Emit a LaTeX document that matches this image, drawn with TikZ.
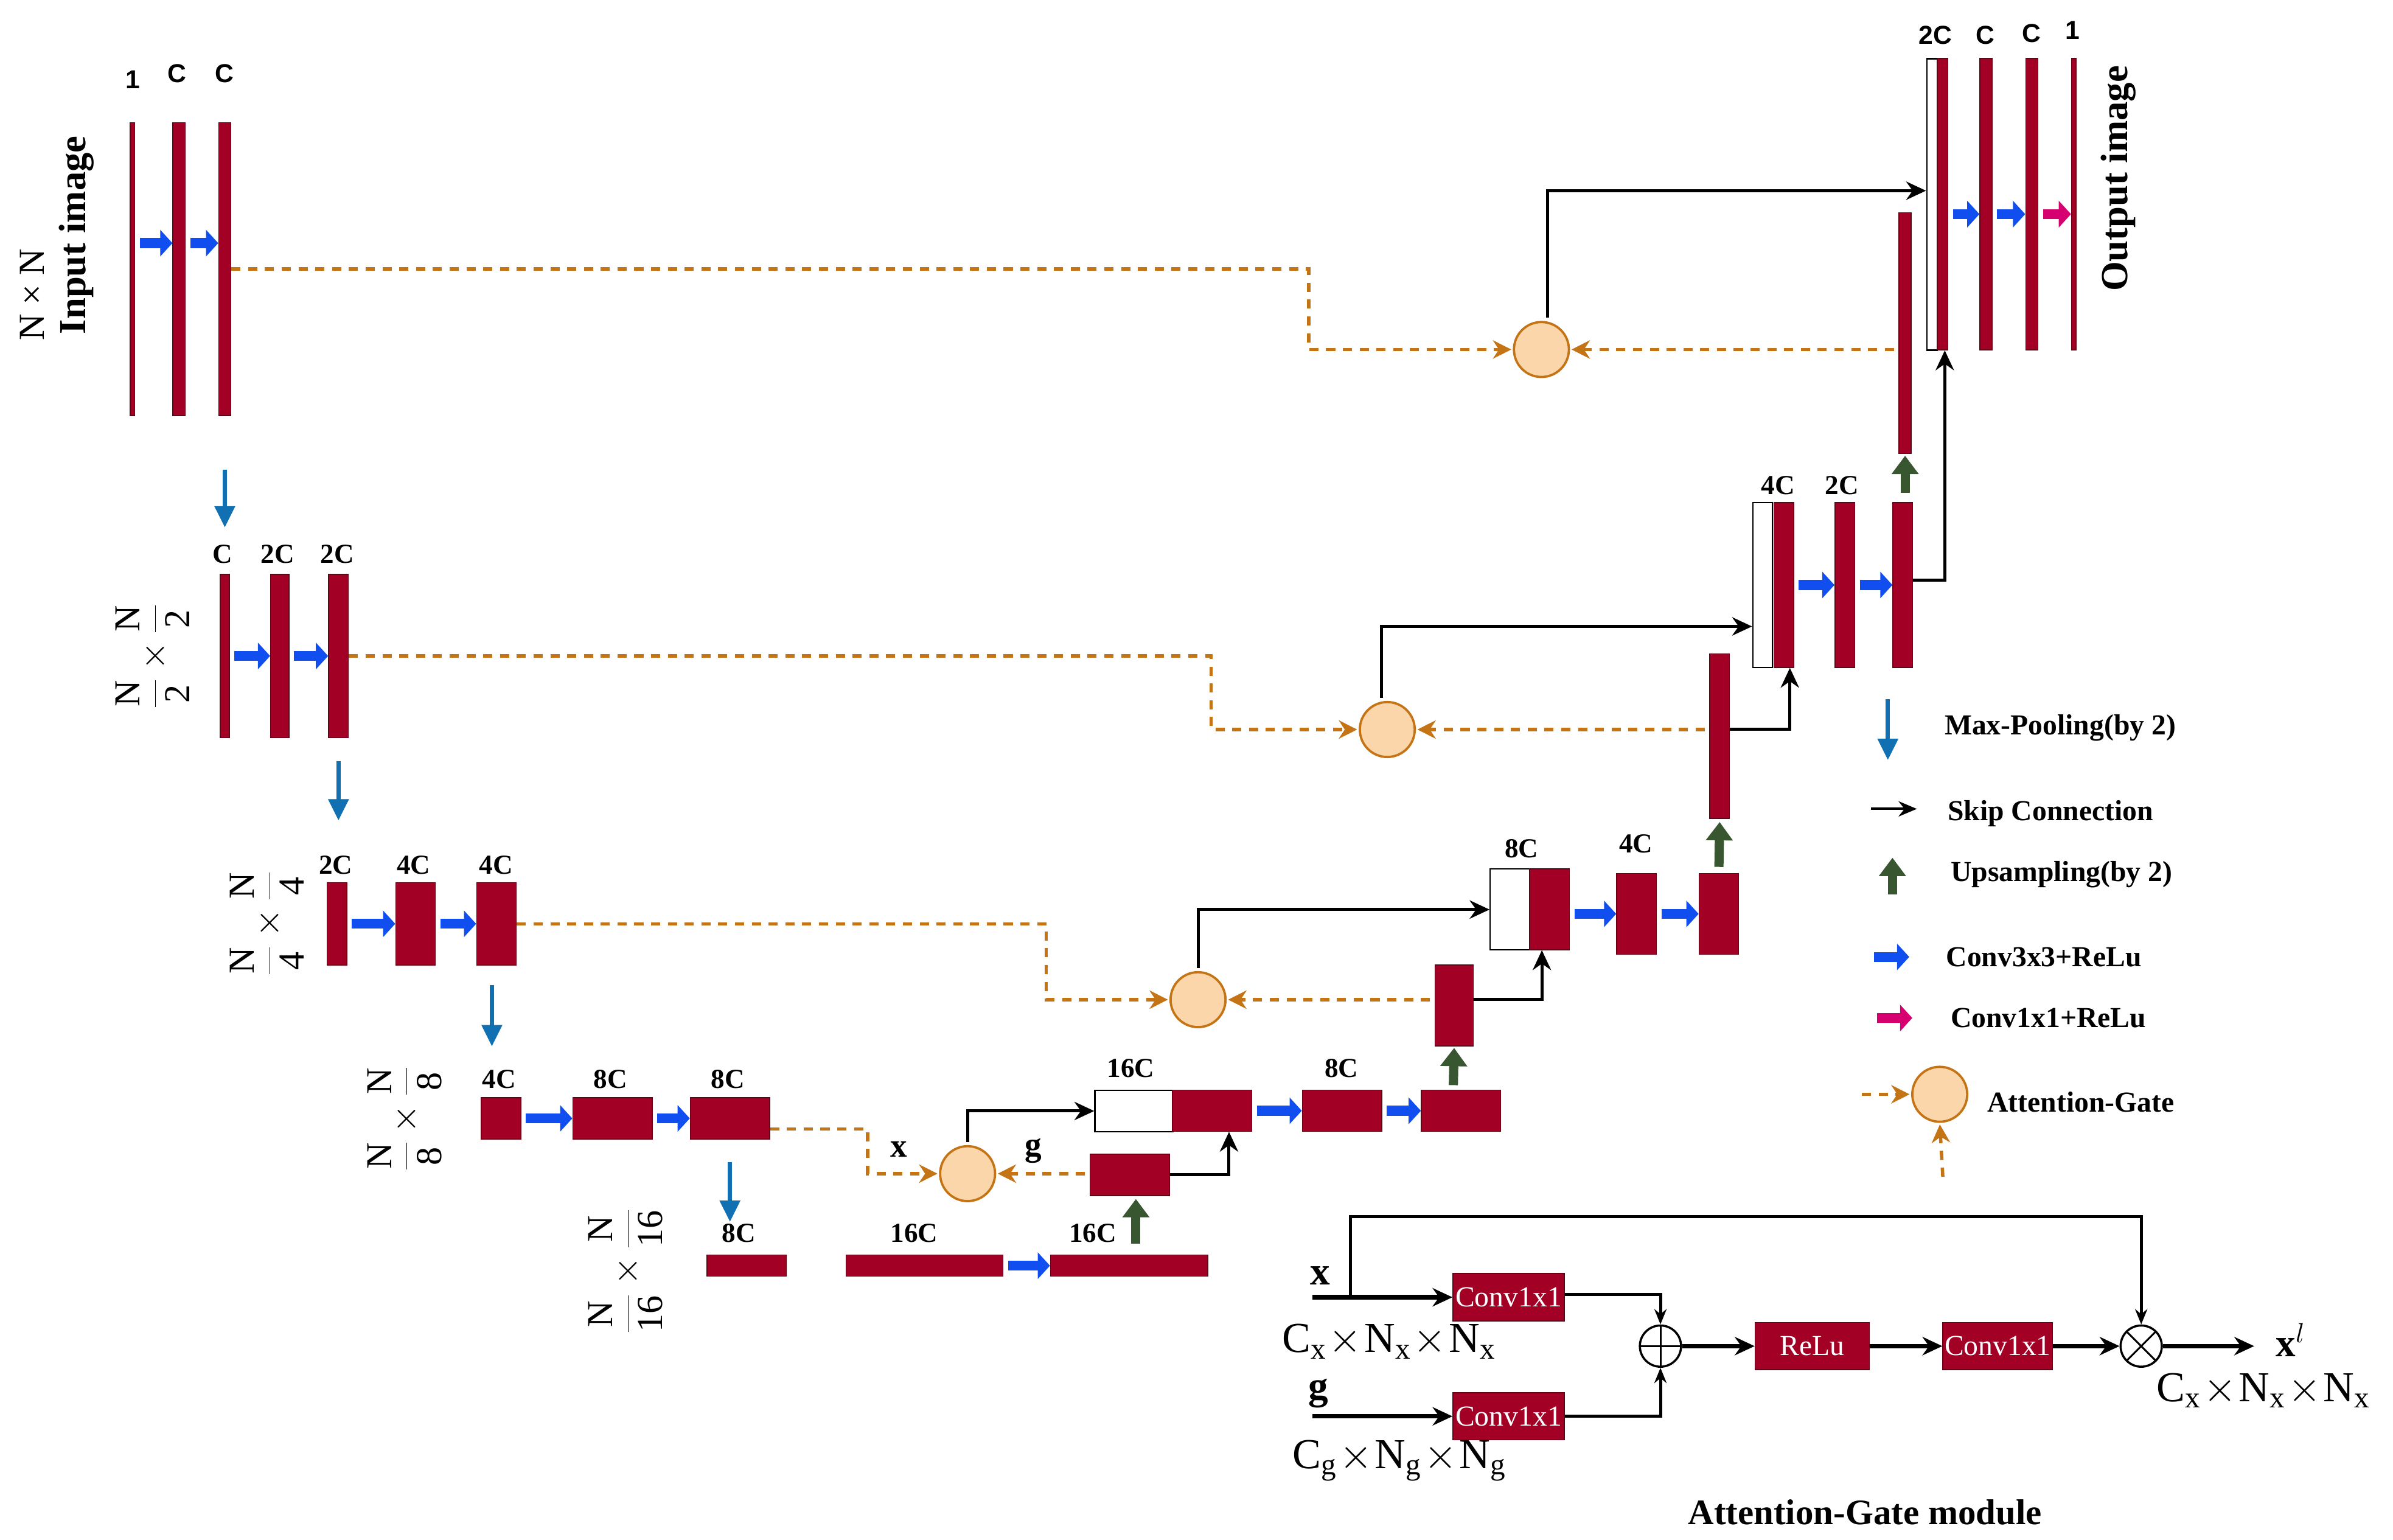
\RequirePackage{fix-cm}
\documentclass[tikz,border=0pt]{standalone}
\usepackage{fontspec}
\setmainfont{Liberation Serif}
\newfontfamily\sansf{Liberation Sans}
\usetikzlibrary{arrows.meta}

\definecolor{barred}{RGB}{163,0,38}
\definecolor{barline}{RGB}{105,0,22}
\definecolor{convblue}{RGB}{16,78,240}
\definecolor{poolblue}{RGB}{16,112,178}
\definecolor{upgreen}{RGB}{56,86,48}
\definecolor{onepink}{RGB}{214,0,112}
\definecolor{gateorange}{RGB}{196,116,20}
\definecolor{gatefill}{RGB}{250,214,170}

\tikzset{
    bar/.style 2 args={draw=barline, line width=0.6pt, fill=barred, inner sep=0, anchor=north west, minimum width=#1, minimum height=#2},
    wbox/.style 2 args={draw=black, line width=0.9pt, fill=white, inner sep=0, anchor=north west, minimum width=#1, minimum height=#2},
    chan/.style={font=\fontsize{18}{20}\selectfont\bfseries, inner sep=0},
    chans/.style={font=\sansf\fontsize{17}{19}\selectfont\bfseries, inner sep=0},
    dimlab/.style={rotate=90, font=\fontsize{24}{26}\selectfont, inner sep=0},
    legtext/.style={anchor=west, font=\fontsize{19}{21}\selectfont\bfseries, inner sep=0},
    conv/.style={convblue, line width=6.5pt, -{Triangle[length=8pt,width=17pt]}, shorten <=3pt},
    onebyone/.style={onepink, line width=6.5pt, -{Triangle[length=8pt,width=17pt]}, shorten <=3pt},
    upsamp/.style={upgreen, line width=6pt, -{Triangle[length=12pt,width=17pt]}},
    pool/.style={poolblue, line width=2.8pt, -{Triangle[length=14pt,width=13pt]}},
    skip/.style={black, line width=2pt, -{Stealth[length=13pt,width=12pt]}},
    gate/.style={gateorange, line width=2.2pt, dash pattern=on 6pt off 5pt, -{Stealth[length=12pt,width=12pt]}, shorten >=1pt},
    ag/.style={circle, draw=gateorange, fill=gatefill, line width=1.5pt, minimum size=36pt, inner sep=0},
    opbox/.style={draw=barline, line width=0.6pt, fill=barred, text=white, inner sep=0, minimum height=31pt, font=\fontsize{19}{21}\selectfont},
    opc/.style={circle, draw, line width=1.4pt, minimum size=27pt, inner sep=0},
    oplus/.style={opc, path picture={\draw[line width=1.2pt] (path picture bounding box.north) -- (path picture bounding box.south) (path picture bounding box.west) -- (path picture bounding box.east);}},
    otimes/.style={opc, path picture={\draw[line width=1.2pt] (path picture bounding box.north west) -- (path picture bounding box.south east) (path picture bounding box.north east) -- (path picture bounding box.south west);}},
    thickarr/.style={black, line width=3pt, -{Stealth[length=13pt,width=12pt]}},
    thinarr/.style={black, line width=2pt, -{Stealth[length=10pt,width=8pt]}},
    dimtxt/.style={font=\fontsize{28}{30}\selectfont, inner sep=0}
}

\begin{document}
\begin{tikzpicture}[x=1pt, y=-1pt]
    \path[use as bounding box, fill=white] (0,0) rectangle (1568,1009);

    % encoder
    \node[bar={3}{192}] (e1a) at (85,80) {};
    \node[bar={8}{192}] (e1b) at (113,80) {};
    \node[bar={8}{192}] (e1c) at (143,80) {};
    \node[chans] at (87,52) {1};
    \node[chans] at (116,48) {C};
    \node[chans] at (147,48) {C};
    \node[dimlab] (n1) at (21,193) {N × N};
    \node[dimlab, font=\fontsize{25}{27}\selectfont\bfseries] (inimg) at (50,154) {Input image};
    \draw[conv] ([yshift=17]e1a.east) -- ([yshift=17]e1b.west);
    \draw[conv] ([yshift=17]e1b.east) -- ([yshift=17]e1c.west);

    \node[bar={6}{107}] (e2a) at (144,376) {};
    \node[bar={12}{107}] (e2b) at (177,376) {};
    \node[bar={13}{107}] (e2c) at (215,376) {};
    \node[chan] at (146,363) {C};
    \node[chan] at (182,363) {2C};
    \node[chan] at (221,363) {2C};
    \node[dimlab] (n2) at (100,430) {$\displaystyle\frac{\textrm{N}}{\textrm{2}}\times\frac{\textrm{N}}{\textrm{2}}$};
    \draw[conv] (e2a.east) -- (e2b.west);
    \draw[conv] (e2b.east) -- (e2c.west);

    \node[bar={13}{54}] (e3a) at (214,578) {};
    \node[bar={26}{54}] (e3b) at (259,578) {};
    \node[bar={26}{54}] (e3c) at (312,578) {};
    \node[chan] at (220,567) {2C};
    \node[chan] at (271,567) {4C};
    \node[chan] at (325,567) {4C};
    \node[dimlab] (n3) at (175,605) {$\displaystyle\frac{\textrm{N}}{\textrm{4}}\times\frac{\textrm{N}}{\textrm{4}}$};
    \draw[conv] (e3a.east) -- (e3b.west);
    \draw[conv] (e3b.east) -- (e3c.west);

    \node[bar={26}{27}] (e4a) at (315,719) {};
    \node[bar={52}{27}] (e4b) at (375,719) {};
    \node[bar={52}{27}] (e4c) at (452,719) {};
    \node[chan] at (327,707) {4C};
    \node[chan] at (400,707) {8C};
    \node[chan] at (477,707) {8C};
    \node[dimlab] (n4) at (265,733) {$\displaystyle\frac{\textrm{N}}{\textrm{8}}\times\frac{\textrm{N}}{\textrm{8}}$};
    \draw[conv] (e4a.east) -- (e4b.west);
    \draw[conv] (e4b.east) -- (e4c.west);

    \node[bar={52}{14}] (e5a) at (463,822) {};
    \node[bar={103}{14}] (e5b) at (554,822) {};
    \node[bar={103}{14}] (e5c) at (688,822) {};
    \node[chan] at (484,808) {8C};
    \node[chan] at (599,808) {16C};
    \node[chan] at (716,808) {16C};
    \node[dimlab] (n5) at (410,833) {$\displaystyle\frac{\textrm{N}}{\textrm{16}}\times\frac{\textrm{N}}{\textrm{16}}$};
    \draw[conv] (e5b.east) -- (e5c.west);

    \draw[pool] ([yshift=-35]e1c.south) -- ++(0,38);
    \draw[pool] ([yshift=-15]e2c.south) -- ++(0,39);
    \draw[pool] ([xshift=-3,yshift=-13]e3c.south) -- ++(0,40);
    \draw[pool] ([yshift=-15]e4c.south) -- ++(0,39);

    % attention gates
    \node[ag] (ag1) at (1010,229) {};
    \node[ag] (ag2) at (909,478) {};
    \node[ag] (ag3) at (785,655) {};
    \node[ag] (ag4) at (634,769) {};

    % decoder
    \node[bar={52}{27}] (d4g) at (714,756) {};
    \node[wbox={51}{27}] (d4w) at (717,714) {};
    \node[bar={52}{27}] (d4r) at (768,714) {};
    \node[bar={52}{27}] (d4b) at (853,714) {};
    \node[bar={52}{27}] (d4c) at (931,714) {};
    \node[chan] at (741,700) {16C};
    \node[chan] at (879,700) {8C};
    \node[font=\fontsize{22}{24}\selectfont\bfseries, inner sep=0] at (589,753) {x};
    \node[font=\fontsize{22}{24}\selectfont\bfseries, inner sep=0] at (677,754) {g};
    \draw[conv] (d4r.east) -- (d4b.west);
    \draw[conv] (d4b.east) -- (d4c.west);
    \draw[upsamp] ([xshift=4.5,yshift=7]e5c.north) -- ([xshift=4,yshift=-2]d4g.south);

    \node[bar={25}{53}] (d3u) at (940,632) {};
    \node[wbox={26}{53}] (d3w) at (976,569) {};
    \node[bar={26}{53}] (d3r) at (1002,569) {};
    \node[bar={26}{53}] (d3b) at (1059,572) {};
    \node[bar={26}{53}] (d3c) at (1113,572) {};
    \node[chan] at (997,556) {8C};
    \node[chan] at (1072,553) {4C};
    \draw[conv] ([yshift=-3]d3r.east) -- (d3b.west);
    \draw[conv] (d3b.east) -- (d3c.west);
    \draw[upsamp] ([xshift=-5,yshift=3]d4c.north) -- ([yshift=-1]d3u.south);

    \node[bar={13}{108}] (d2u) at (1120,428) {};
    \node[wbox={13}{108}] (d2w) at (1148,329) {};
    \node[bar={13}{108}] (d2r) at (1162,329) {};
    \node[bar={13}{108}] (d2b) at (1202,329) {};
    \node[bar={13}{108}] (d2c) at (1240,329) {};
    \node[chan] at (1165,318) {4C};
    \node[chan] at (1207,318) {2C};
    \draw[conv] (d2r.east) -- (d2b.west);
    \draw[conv] (d2b.east) -- (d2c.west);
    \draw[upsamp] ([yshift=4]d3c.north) -- ([yshift=-2]d2u.south);

    \node[bar={8}{158}] (d1u) at (1244,139) {};
    \node[wbox={7}{191}] (d1w) at (1262,38) {};
    \node[bar={7}{191}] (d1r) at (1269,38) {};
    \node[bar={8}{191}] (d1b) at (1297,38) {};
    \node[bar={8}{191}] (d1c) at (1327,38) {};
    \node[bar={3}{191}] (d1d) at (1357,38) {};
    \node[chans] at (1268,23) {2C};
    \node[chans] at (1301,23) {C};
    \node[chans] at (1331,22) {C};
    \node[chans] at (1358,20) {1};
    \node[dimlab, font=\fontsize{25}{27}\selectfont\bfseries] (outimg) at (1388,117) {Output image};
    \draw[conv] ([yshift=-6.5]d1r.east) -- ([yshift=-6.5]d1b.west);
    \draw[conv] ([yshift=-6.5]d1b.east) -- ([yshift=-6.5]d1c.west);
    \draw[onebyone] ([yshift=-6.5]d1c.east) -- ([yshift=-6.5]d1d.west);
    \draw[upsamp] ([xshift=1.5,yshift=6]d2c.north) -- ([yshift=-1]d1u.south);

    % skip paths through the gates
    \draw[gate] (e1c.east) -- ++(706,0) |- (ag1.west);
    \draw[gate] (e2c.east) -- ++(565,0) |- (ag2.west);
    \draw[gate] (e3c.east) -- ++(347,0) |- (ag3.west);
    \draw[gate] ([yshift=-7]e4c.east) -- ++(64,0) |- (ag4.west);
    \draw[gate, shorten <=3pt] (d1u.west |- ag1) -- (ag1.east);
    \draw[gate, shorten <=3pt] (d2u.west |- ag2) -- (ag2.east);
    \draw[gate, shorten <=3pt] (d3u.west |- ag3) -- (ag3.east);
    \draw[gate, shorten <=3pt] (d4g.west |- ag4) -- (ag4.east);

    \draw[skip, shorten <=2pt] ([xshift=4]ag1.north) |- ([yshift=9]d1w.west);
    \draw[skip, shorten <=2pt] ([xshift=-4]ag2.north) |- ([yshift=-27]d2w.west);
    \draw[skip, shorten <=2pt] (ag3.north) |- (d3w.west);
    \draw[skip, shorten <=2pt] (ag4.north) |- (d4w.west);

    \draw[skip] (d4g.east) -| ([xshift=11]d4r.south);
    \draw[skip] (d3u.east |- ag3) -| ([xshift=-5]d3r.south);
    \draw[skip] (d2u.east |- ag2) -| ([xshift=4]d2r.south);
    \draw[skip] ([yshift=3]d2c.east) -| ([xshift=1.5]d1r.south);

    % legend
    \draw[pool] (1237,458) -- (1237,498);
    \node[legtext] (lg1) at (1274,477) {Max-Pooling(by 2)};
    \draw[black, line width=1.6pt, -{Stealth[length=12pt,width=10pt]}] (1226,530) -- (1256,530);
    \node[legtext] (lg2) at (1276,533) {Skip Connection};
    \draw[upsamp] (1240,586) -- (1240,562);
    \node[legtext] (lg3) at (1278,573) {Upsampling(by 2)};
    \draw[conv, shorten <=0pt] (1228,627) -- (1251,627);
    \node[legtext] (lg4) at (1275,627) {Conv3x3+ReLu};
    \draw[onebyone, shorten <=0pt] (1230,667) -- (1253,667);
    \node[legtext] (lg5) at (1278,667) {Conv1x1+ReLu};
    \node[ag] (lgag) at (1271,717) {};
    \draw[gate] (1220,717) -- (lgag.west);
    \draw[gate] (1273,771) -- (lgag.south);
    \node[legtext] (lg6) at (1302,722) {Attention-Gate};

    % attention gate module
    \coordinate (xin) at (860,850);
    \coordinate (gin) at (860,928);
    \node[opbox, minimum width=73pt] (cx) at (988.5,850) {$\mathrm{Conv1x1}$};
    \node[opbox, minimum width=73pt] (cg) at (988.5,928) {$\mathrm{Conv1x1}$};
    \node[oplus] (plus) at (1088,882) {};
    \node[opbox, minimum width=75pt] (relu) at (1187.5,882) {$\mathrm{ReLu}$};
    \node[opbox, minimum width=72pt] (cc) at (1309,882) {$\mathrm{Conv1x1}$};
    \node[otimes] (mult) at (1403,882) {};
    \node[anchor=west, inner sep=0, font=\fontsize{26}{28}\selectfont] (xl) at (1491,878) {\textbf{x}$^{l}$};
    \node[font=\fontsize{26}{28}\selectfont\bfseries, inner sep=0] at (865,836) {x};
    \node[font=\fontsize{26}{28}\selectfont\bfseries, inner sep=0] at (864,913) {g};
    \node[dimtxt] (dx) at (910,879) {$\mathrm{C_x\!\times\!N_x\!\times\!N_x}$};
    \node[dimtxt] (dg) at (917,957) {$\mathrm{C_g\!\times\!N_g\!\times\!N_g}$};
    \node[dimtxt] (dxo) at (1483,911) {$\mathrm{C_x\!\times\!N_x\!\times\!N_x}$};
    \node[font=\fontsize{23.5}{26}\selectfont\bfseries, inner sep=0] (agm) at (1222,991) {Attention-Gate module};

    \draw[thickarr] (xin) -- (cx.west);
    \draw[thickarr] (gin) -- (cg.west);
    \draw[thinarr] ([yshift=2]cx.east) -| (plus.north);
    \draw[thinarr] (cg.east) -| (plus.south);
    \draw[thickarr] (plus.east) -- (relu.west);
    \draw[thickarr] (relu.east) -- (cc.west);
    \draw[thickarr] (cc.east) -- (mult.west);
    \draw[thickarr, shorten >=14pt] (mult.east) -- (mult.east -| xl.west);
    \draw[thinarr] ([xshift=25]xin) |- ++(0,-53) -| (mult.north);
\end{tikzpicture}
\end{document}
